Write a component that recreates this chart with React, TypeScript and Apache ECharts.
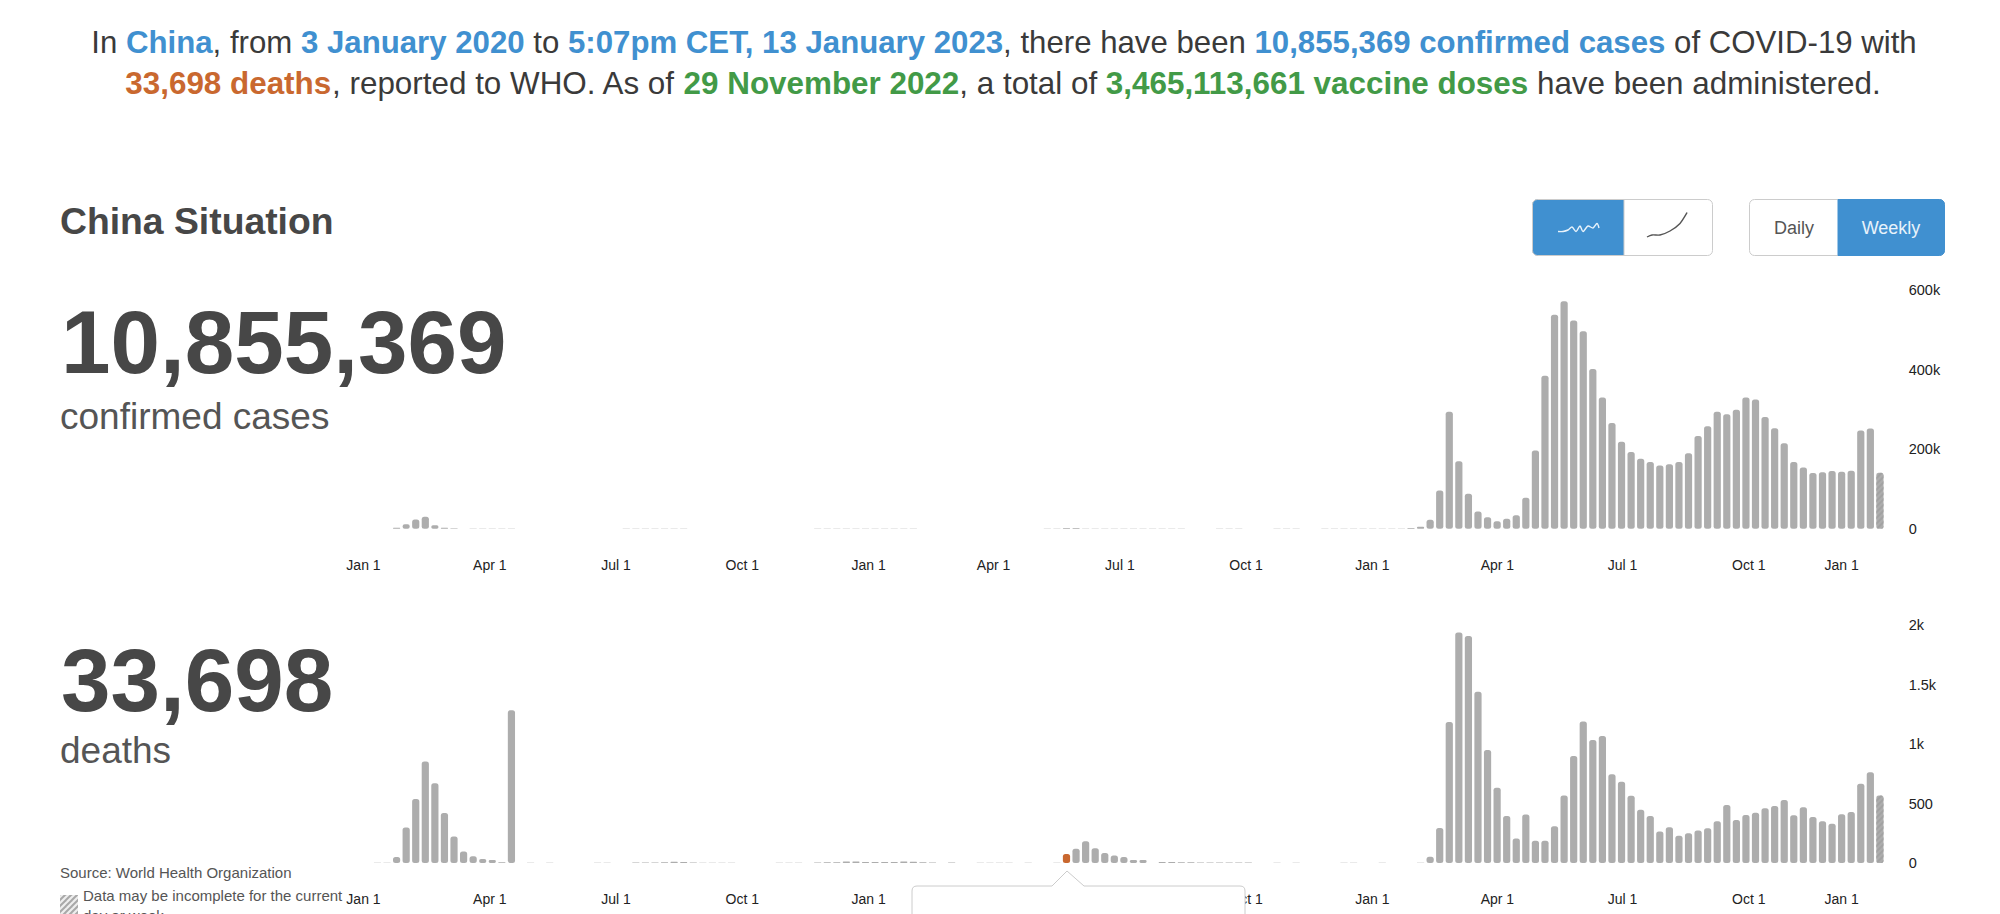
import React, { useEffect, useRef } from "react";
import * as echarts from "echarts";

const tickPositions = [-0.46, 12.74, 25.93, 39.12, 52.32, 65.38, 78.58, 91.76, 104.97, 118.03, 131.1, 144.3, 154];
const tickTexts = ["Jan 1", "Apr 1", "Jul 1", "Oct 1", "Jan 1", "Apr 1", "Jul 1", "Oct 1", "Jan 1", "Apr 1", "Jul 1", "Oct 1", "Jan 1"];

const weeklyCases = [
  0, 0, 0, 2500, 11000, 23000, 30000, 8400, 2500, 1000,
  0, 500, 500, 500, 500, 500, 0, 0, 0, 0,
  0, 0, 0, 0, 0, 0, 0, 500, 700, 500,
  700, 500, 500, 500, 0, 0, 0, 0, 0, 0,
  0, 0, 0, 0, 0, 0, 0, 500, 500, 500,
  500, 500, 800, 800, 800, 800, 500, 500, 0, 0,
  0, 0, 0, 0, 0, 0, 0, 0, 0, 0,
  0, 500, 800, 2000, 2000, 800, 500, 500, 500, 500,
  500, 500, 500, 500, 500, 500, 0, 0, 0, 500,
  500, 500, 0, 0, 0, 500, 500, 500, 0, 0,
  500, 500, 500, 500, 500, 500, 500, 500, 800, 1500,
  5000, 22600, 96000, 294000, 170000, 88000, 43000, 29000, 19000, 25000,
  34000, 78000, 197000, 385000, 538000, 572000, 524000, 497000, 402000, 330000,
  266000, 219000, 193000, 176000, 168000, 159000, 162000, 168000, 190000, 233000,
  258000, 294000, 288000, 299000, 330000, 325000, 281000, 253000, 215000, 168000,
  154000, 140000, 142000, 145000, 143000, 146000, 247000, 252000, 141000,
];

const weeklyDeaths = [
  0, 2, 2, 50, 298, 537, 852, 671, 420, 223,
  97, 56, 33, 25, 6, 1284, 0, 2, 0, 2,
  0, 0, 0, 0, 2, 2, 0, 0, 4, 5,
  5, 6, 10, 8, 5, 3, 3, 3, 3, 0,
  0, 0, 0, 3, 3, 3, 0, 5, 6, 6,
  12, 12, 8, 8, 8, 8, 12, 10, 6, 5,
  0, 4, 0, 0, 3, 3, 3, 3, 0, 3,
  0, 0, 3, 76, 120, 182, 123, 84, 64, 50,
  25, 25, 0, 8, 8, 6, 6, 5, 5, 5,
  4, 4, 4, 0, 0, 3, 0, 3, 0, 0,
  0, 0, 3, 3, 0, 0, 3, 0, 0, 0,
  3, 53, 295, 1184, 1938, 1908, 1440, 950, 632, 395,
  206, 407, 187, 187, 309, 568, 900, 1189, 1033, 1067,
  746, 682, 565, 448, 395, 265, 301, 228, 251, 273,
  292, 351, 487, 362, 404, 423, 460, 479, 529, 401,
  468, 387, 351, 329, 409, 429, 666, 763, 568,
];

const highlightedDeathWeek = 73;

const headerLine1: [string, string][] = [
  ["n", "In "], ["b", "China"], ["n", ", from "], ["b", "3 January 2020"], ["n", " to "],
  ["b", "5:07pm CET, 13 January 2023"], ["n", ", there have been "], ["b", "10,855,369 confirmed cases"],
  ["n", " of COVID-19 with"],
];
const headerLine2: [string, string][] = [
  ["o", "33,698 deaths"], ["n", ", reported to WHO. As of "], ["g", "29 November 2022"],
  ["n", ", a total of "], ["g", "3,465,113,661 vaccine doses"], ["n", " have been administered."],
];

const FONT = '"Liberation Sans", Arial, sans-serif';
const BAR = "#adadad";
const BLUE = "#4090d0";
const ORANGE = "#c9682f";
const GREEN = "#429a47";
const DARK = "#474747";

const richLine = (parts: [string, string][]) => parts.map(([k, t]) => `{${k}|${t}}`).join("");
const headerRich = (size: number) => ({
  n: { fill: "#3a3a3a", fontSize: size, fontFamily: FONT },
  b: { fill: BLUE, fontSize: size, fontFamily: FONT, fontWeight: "bold" },
  o: { fill: ORANGE, fontSize: size, fontFamily: FONT, fontWeight: "bold" },
  g: { fill: GREEN, fontSize: size, fontFamily: FONT, fontWeight: "bold" },
});

echarts.graphic.registerShape(
  "tipBox",
  echarts.graphic.extendPath(
    "M917 886 H1052 L1067 871 L1084 886 H1240 Q1245 886 1245 891 V930 H912 V891 Q912 886 917 886 Z",
    {}
  )
);

const hatchDecal = {
  symbol: "rect",
  color: "#a2a2a2",
  backgroundColor: "#ececec",
  dashArrayX: [1, 0],
  dashArrayY: [2, 2],
  rotation: -Math.PI / 4,
};

function hatchCanvas() {
  const c = document.createElement("canvas");
  c.width = 6;
  c.height = 6;
  const g = c.getContext("2d")!;
  g.fillStyle = "#eeeeee";
  g.fillRect(0, 0, 6, 6);
  g.strokeStyle = "#a8a8a8";
  g.lineWidth = 2;
  for (const o of [-6, 0, 6]) {
    g.beginPath();
    g.moveTo(o - 1, 7);
    g.lineTo(o + 7, -1);
    g.stroke();
  }
  return c;
}

const txt = (text: string, x: number, y: number, fontSize: number, fill: string, fontWeight = "normal", align = "left") => ({
  type: "text",
  x,
  y,
  z: 50,
  style: { text, fontSize, fontFamily: FONT, fontWeight, fill, align, verticalAlign: "middle" },
});

const barData = (values: number[], highlight?: number) =>
  values.map((v, i) =>
    i === values.length - 1
      ? { value: [i, v], itemStyle: { decal: { ...hatchDecal } } }
      : i === highlight
      ? { value: [i, v], itemStyle: { color: ORANGE } }
      : [i, v]
  );

const kFormat = (v: number) => (v >= 1000 ? `${v / 1000}k` : `${v}`);

export default function App() {
  const ref = useRef<HTMLDivElement>(null);
  useEffect(() => {
    const chart = echarts.init(ref.current!, undefined, { renderer: "svg" });
    const xAxis = (gridIndex: number) => ({
      type: "value",
      gridIndex,
      min: -0.5,
      max: 158.5,
      splitLine: { show: false },
      axisLine: { show: false },
      axisTick: { show: false },
      axisLabel: {
        customValues: tickPositions,
        margin: 29,
        fontSize: 14,
        fontFamily: FONT,
        color: "#222",
        hideOverlap: false,
        showMinLabel: true,
        showMaxLabel: true,
        formatter: (v: number) => tickTexts[tickPositions.indexOf(v)] ?? "",
      },
    });
    const yAxis = (gridIndex: number, max: number, interval: number) => ({
      type: "value",
      gridIndex,
      position: "right",
      min: 0,
      max,
      interval,
      splitLine: { show: false },
      axisLine: { show: false },
      axisTick: { show: false },
      axisLabel: { margin: 24, fontSize: 14.5, fontFamily: FONT, color: "#222", formatter: kFormat },
    });
    const barSeries = (i: number, data: any[]) => ({
      type: "bar",
      xAxisIndex: i,
      yAxisIndex: i,
      data,
      barWidth: 7.2,
      itemStyle: { color: BAR, borderRadius: 2.5 },
      silent: true,
    });
    const btnY = 199.5;
    const btnH = 56;
    chart.setOption({
      animation: false,
      tooltip: { show: false },
      grid: [
        { left: 363.1, top: 290.2, width: 1521.6, height: 238.5 },
        { left: 363.1, top: 625, width: 1521.6, height: 238 },
      ],
      xAxis: [xAxis(0), xAxis(1)],
      yAxis: [yAxis(0, 600000, 200000), yAxis(1, 2000, 500)],
      series: [barSeries(0, barData(weeklyCases)), barSeries(1, barData(weeklyDeaths, highlightedDeathWeek))],
      graphic: {
        elements: [
          { type: "text", x: 1004, y: 42, style: { text: richLine(headerLine1), rich: headerRich(31.2), align: "center", verticalAlign: "middle" } },
          { type: "text", x: 1003, y: 83, style: { text: richLine(headerLine2), rich: headerRich(31.4), align: "center", verticalAlign: "middle" } },
          txt("China Situation", 60, 221, 37.3, DARK, "bold"),
          txt("10,855,369", 61, 342, 89, DARK, "bold"),
          txt("confirmed cases", 60, 416, 37, "#555"),
          txt("33,698", 61, 680, 89, DARK, "bold"),
          txt("deaths", 60, 750, 37, "#555"),
          txt("Source: World Health Organization", 60, 872, 15, "#555"),
          { type: "rect", z: 50, shape: { x: 60, y: 895, width: 18, height: 20 }, style: { fill: { image: hatchCanvas(), repeat: "repeat" } } },
          txt("Data may be incomplete for the current", 83, 895, 15, "#555"),
          txt("day or week", 83, 915, 15, "#555"),
          // tooltip box
          { type: "tipBox", z: 60, style: { fill: "#fff", stroke: "#cccccc", lineWidth: 1 } },
          // chart-style toggle
          { type: "rect", z: 50, shape: { x: 1532.5, y: btnY, width: 180, height: btnH, r: 5 }, style: { fill: "#fff", stroke: "#cccccc", lineWidth: 1 } },
          { type: "rect", z: 51, shape: { x: 1532.5, y: btnY, width: 91.5, height: btnH, r: [5, 0, 0, 5] }, style: { fill: BLUE, stroke: "#cccccc", lineWidth: 1 } },
          {
            type: "polyline", z: 52,
            shape: { points: [[1558, 231.5], [1563, 231.5], [1568, 230], [1572, 227], [1576, 231.5], [1580, 226], [1583, 231.5], [1588, 226], [1593, 228], [1597, 223.5], [1599, 228]], smooth: 0.3 },
            style: { stroke: "#e8f3fb", lineWidth: 1.4, fill: "none" },
          },
          {
            type: "polyline", z: 52,
            shape: { points: [[1647, 237], [1652, 235], [1660, 235], [1670, 231], [1680, 223.5], [1687, 212.5]], smooth: 0.3 },
            style: { stroke: "#555", lineWidth: 1.4, fill: "none" },
          },
          // daily / weekly toggle
          { type: "rect", z: 50, shape: { x: 1749.5, y: btnY, width: 195, height: btnH, r: 5 }, style: { fill: "#fff", stroke: "#cccccc", lineWidth: 1 } },
          { type: "rect", z: 51, shape: { x: 1838, y: btnY, width: 106.5, height: btnH, r: [0, 5, 5, 0] }, style: { fill: BLUE, stroke: BLUE, lineWidth: 1 } },
          txt("Daily", 1794, 228, 18, "#555", "normal", "center"),
          { ...txt("Weekly", 1891, 228, 18, "#e8f3fb", "normal", "center"), z: 52 },
        ],
      },
    });
    return () => chart.dispose();
  }, []);
  return <div ref={ref} style={{ position: "absolute", left: 0, top: 0, width: 2000, height: 914, overflow: "hidden" }} />;
}
